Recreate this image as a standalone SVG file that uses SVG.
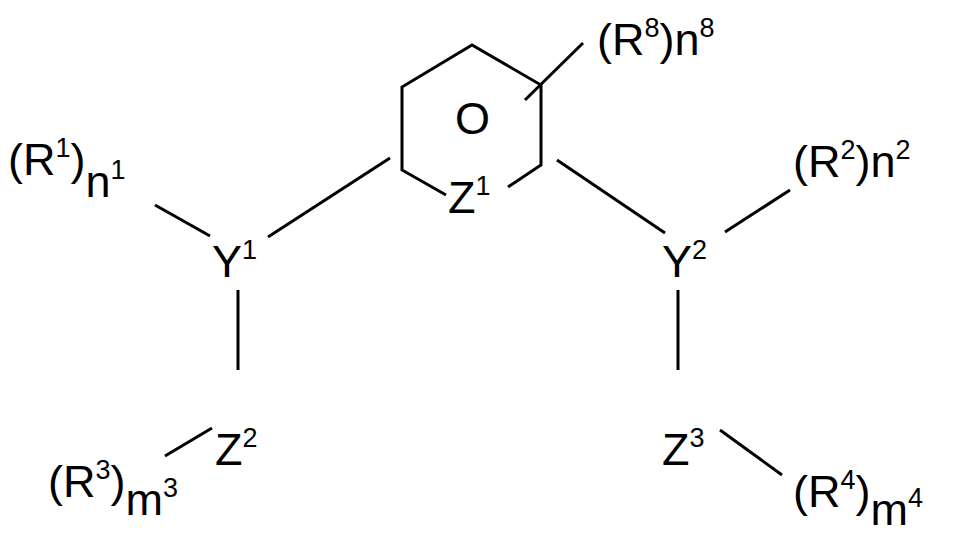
<svg xmlns="http://www.w3.org/2000/svg" width="961" height="545" viewBox="0 0 961 545">
<style>
text{font-family:"Liberation Sans",Arial,sans-serif;font-size:45px;fill:#000}
.s{font-size:27px}
line,polyline{stroke:#000;stroke-width:3;fill:none}
</style>
<rect width="961" height="545" fill="#fff"/>
<g id="connectors">
<polyline points="446,195 402,170 402,87 472,45 541,85 541,165 508,187"/>
<line x1="583" y1="43" x2="525" y2="100"/>
<line x1="390" y1="158" x2="268" y2="237"/>
<line x1="155" y1="205" x2="210" y2="236"/>
<line x1="238" y1="290" x2="238" y2="370"/>
<line x1="212" y1="428" x2="165" y2="456"/>
<line x1="557" y1="160" x2="665" y2="233"/>
<line x1="725" y1="232" x2="790" y2="190"/>
<line x1="678" y1="290" x2="678" y2="370"/>
<line x1="720" y1="430" x2="782" y2="475"/>
</g>
<g id="ring"><text x="455" y="134">O</text><text x="448" y="213">Z<tspan class="s" dy="-18">1</tspan></text></g>
<g id="R8"><text x="597" y="55">(R<tspan class="s" dy="-18">8</tspan><tspan dy="18">)n</tspan><tspan class="s" dy="-18">8</tspan></text></g>
<g id="R1"><text x="8" y="175">(R<tspan class="s" dy="-18">1</tspan><tspan dy="18">)</tspan><tspan dy="22">n</tspan><tspan class="s" dy="-18">1</tspan></text></g>
<g id="Y1"><text x="212" y="277">Y<tspan class="s" dy="-18">1</tspan></text></g>
<g id="Z2"><text x="215" y="465">Z<tspan class="s" dy="-18">2</tspan></text></g>
<g id="R3"><text x="48" y="497">(R<tspan class="s" dy="-18">3</tspan><tspan dy="18">)</tspan><tspan dy="18">m</tspan><tspan class="s" dy="-18">3</tspan></text></g>
<g id="Y2"><text x="662" y="277">Y<tspan class="s" dy="-18">2</tspan></text></g>
<g id="R2"><text x="793" y="177">(R<tspan class="s" dy="-18">2</tspan><tspan dy="18">)n</tspan><tspan class="s" dy="-18">2</tspan></text></g>
<g id="Z3"><text x="662" y="465">Z<tspan class="s" dy="-18">3</tspan></text></g>
<g id="R4"><text x="793" y="507">(R<tspan class="s" dy="-18">4</tspan><tspan dy="18">)</tspan><tspan dy="18">m</tspan><tspan class="s" dy="-18">4</tspan></text></g>
</svg>
